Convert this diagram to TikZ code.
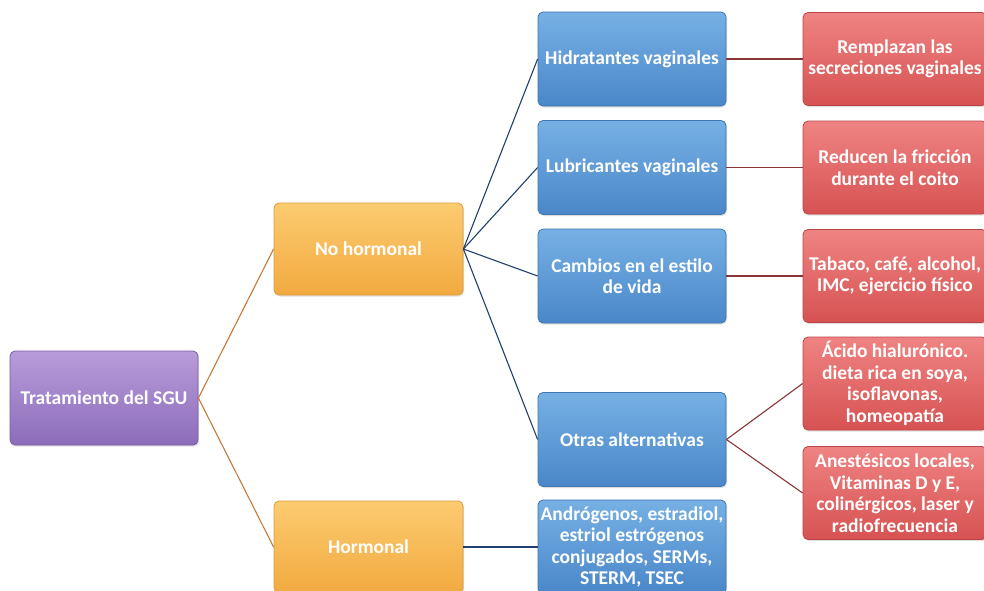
\documentclass[tikz,border=0pt]{standalone}
\usepackage{fontspec}
\setmainfont{Carlito}
\usetikzlibrary{shadows}
\definecolor{pTop}{HTML}{B89CDA}
\definecolor{pBot}{HTML}{8C6CBA}
\definecolor{pBrd}{HTML}{7A5CA6}
\definecolor{oTop}{HTML}{FCCB70}
\definecolor{oBot}{HTML}{F2AA40}
\definecolor{oBrd}{HTML}{DC9C42}
\definecolor{bTop}{HTML}{76B0E4}
\definecolor{bBot}{HTML}{4A87C9}
\definecolor{bBrd}{HTML}{3E76B2}
\definecolor{rTop}{HTML}{EF8383}
\definecolor{rBot}{HTML}{D75252}
\definecolor{rBrd}{HTML}{BE4444}
\definecolor{cOr}{HTML}{C47A3C}
\definecolor{cBl}{HTML}{22406E}
\definecolor{cRd}{HTML}{8A3535}
\tikzset{
  box/.style={rounded corners=5pt, line width=0.8pt, align=center, text=white,
    font=\bfseries\fontsize{19.5}{21.5}\selectfont, inner sep=1pt,
    drop shadow={opacity=0.25, shadow xshift=1pt, shadow yshift=-1.5pt}},
  pbox/.style={box, draw=pBrd, top color=pTop, bottom color=pBot, minimum width=188pt, minimum height=94pt},
  obox/.style={box, draw=oBrd, top color=oTop, bottom color=oBot, minimum width=189pt, minimum height=92pt},
  bbox/.style={box, draw=bBrd, top color=bTop, bottom color=bBot, minimum width=188pt, minimum height=94pt},
  rbox/.style={box, draw=rBrd, top color=rTop, bottom color=rBot, minimum width=184pt, minimum height=93pt},
  lor/.style={draw=cOr, line width=1.1pt},
  lbl/.style={draw=cBl, line width=1.1pt},
  lrd/.style={draw=cRd, line width=1.1pt}
}
\begin{document}
\begin{tikzpicture}[x=1pt, y=-1pt]
\useasboundingbox (0,0) rectangle (984,590);
\clip (0,0) rectangle (984,590);
\fill[white] (0,0) rectangle (984,590);
% nodes
\node[pbox] (root) at (104,398) {Tratamiento del SGU};
\node[obox] (noh) at (368.5,249) {No hormonal};
\node[obox] (hor) at (368.5,547) {Hormonal};
\node[bbox] (hid) at (632,59) {Hidratantes vaginales};
\node[bbox] (lub) at (632,167.5) {Lubricantes vaginales};
\node[bbox] (cam) at (632,276) {Cambios en el estilo\\de vida};
\node[bbox] (otr) at (632,439.5) {Otras alternativas};
\node[bbox] (and) at (632,547) {Andrógenos, estradiol,\\estriol estrógenos\\conjugados, SERMs,\\STERM, TSEC};
\node[rbox] (r1) at (895,59) {Remplazan las\\secreciones vaginales};
\node[rbox] (r2) at (895,167.5) {Reducen la fricción\\durante el coito};
\node[rbox] (r3) at (895,276) {Tabaco, café, alcohol,\\IMC, ejercicio físico};
\node[rbox] (r4) at (895,383.5) {Ácido hialurónico.\\dieta rica en soya,\\isoflavonas,\\homeopatía};
\node[rbox] (r5) at (895,493) {Anestésicos locales,\\Vitaminas D y E,\\colinérgicos, laser y\\radiofrecuencia};
% connectors
\draw[lor] (root.east) -- (noh.west);
\draw[lor] (root.east) -- (hor.west);
\draw[lbl] (noh.east) -- (hid.west);
\draw[lbl] (noh.east) -- (lub.west);
\draw[lbl] (noh.east) -- (cam.west);
\draw[lbl] (noh.east) -- (otr.west);
\draw[lbl] (hor.east) -- (and.west);
\draw[lrd] (hid.east) -- (r1.west);
\draw[lrd] (lub.east) -- (r2.west);
\draw[lrd] (cam.east) -- (r3.west);
\draw[lrd] (otr.east) -- (r4.west);
\draw[lrd] (otr.east) -- (r5.west);
\end{tikzpicture}
\end{document}
